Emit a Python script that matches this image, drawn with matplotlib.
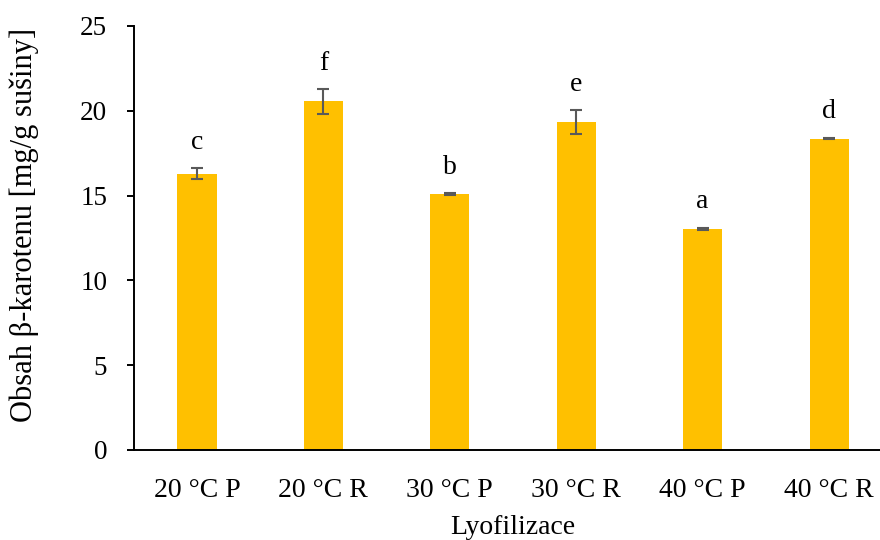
import matplotlib
matplotlib.use('Agg')
import matplotlib.pyplot as plt
import numpy as np

plt.rcParams['font.family'] = ['Liberation Serif', 'DejaVu Serif']

categories = ['20 °C P', '20 °C R', '30 °C P', '30 °C R', '40 °C P', '40 °C R']
values = [16.3, 20.55, 15.08, 19.32, 13.03, 18.36]
errors = [0.3, 0.72, 0.05, 0.71, 0.07, 0.04]
letters = ['c', 'f', 'b', 'e', 'a', 'd']

fig = plt.figure(figsize=(8.8, 5.4), dpi=100)
ax = fig.add_axes([0.152, 0.1667, 0.862, 0.7852])

x = np.arange(len(categories))
ax.bar(x, values, width=0.31, color='#FFC000', zorder=2)
ax.errorbar(x, values, yerr=errors, fmt='none', ecolor='#595959',
            elinewidth=1.5, capsize=4.5, capthick=1.5, zorder=3)

for xi, v, e, l in zip(x, values, errors, letters):
    ax.annotate(l, (xi, v + e), xytext=(0, 14), textcoords='offset points',
                ha='center', va='baseline', fontsize=20)

ax.set_xlim(-0.5, len(categories) - 0.5)
ax.set_ylim(0, 25)
ax.set_yticks([0, 5, 10, 15, 20, 25])
ax.set_xticks(x)
ax.set_xticklabels(categories)

ax.spines['top'].set_visible(False)
ax.spines['right'].set_visible(False)
ax.spines['left'].set_linewidth(1.4)
ax.spines['bottom'].set_linewidth(1.4)
ax.tick_params(axis='y', length=5, width=1.4, labelsize=19.5, pad=14)
ax.tick_params(axis='x', length=0, labelsize=20, pad=20.5)

ax.set_xlabel('Lyofilizace', fontsize=20, labelpad=8)
ax.set_ylabel('Obsah β-karotenu [mg/g sušiny]', fontsize=22, labelpad=30)
ax.yaxis.label.set_y(0.53)

fig.savefig('out.png', dpi=100)
